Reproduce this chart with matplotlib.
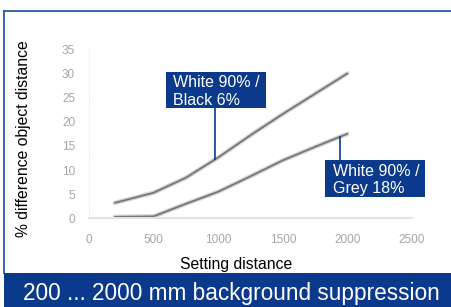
import numpy as np
import matplotlib
matplotlib.use("Agg")
import matplotlib.pyplot as plt
from matplotlib.patches import Rectangle

plt.rcParams["font.family"] = ["Liberation Sans", "DejaVu Sans"]

# setting distance (mm) and % difference of object distance
distance = [200, 500, 750, 1000, 1250, 1500, 1750, 2000]
white_black = [3.2, 5.3, 8.4, 12.6, 17.2, 21.6, 25.8, 30.0]
white_grey = [0.3, 0.4, 3.0, 5.5, 8.7, 12.0, 14.8, 17.5]

x_ticks = [0, 500, 1000, 1500, 2000, 2500]
y_ticks = [0, 5, 10, 15, 20, 25, 30, 35]

label_black = ["White 90% /", "Black 6%"]
label_grey = ["White 90% /", "Grey 18%"]
banner = "200 ... 2000 mm background suppression"

BLUE = "#0b3a8c"
W, H = 452, 307

fig = plt.figure(figsize=(W / 100, H / 100), dpi=100)
ax = fig.add_axes([89 / W, 1 - 218.3 / H, 323 / W, 169 / H])
ax.patch.set_alpha(0)


def fig_xy(px, py):
    # pixel position (top-left origin) -> figure fraction
    return px / W, 1 - py / H


def box(x0, y0, x1, y1, color):
    fig.add_artist(Rectangle((x0 / 100, (H - y1) / 100), (x1 - x0) / 100,
                             (y1 - y0) / 100, transform=fig.dpi_scale_trans,
                             facecolor=color, edgecolor="none", zorder=3))


# blue frame lines and banner
fig.add_artist(plt.Line2D([4.5 / W, 1], [1 - 10.5 / H] * 2, color="#2b5aa8", lw=1.3))
fig.add_artist(plt.Line2D([4.5 / W] * 2, [1 - 10.5 / H, 1 - 273 / H], color="#2b5aa8", lw=1.3))
box(4, 273, W, H, BLUE)
fig.text(*fig_xy(231, 300), banner, color="white", fontsize=16.3,
         ha="center", va="baseline", zorder=4)

# curves (soft halo + core to mimic the blurred scan)
for series in (white_black, white_grey):
    ax.plot(distance, series, color="#d4d4d4", lw=3.2, solid_capstyle="round",
            solid_joinstyle="round")
    ax.plot(distance, series, color="#767676", lw=1.3, solid_capstyle="round",
            solid_joinstyle="round")

ax.set_xlim(0, 2500)
ax.set_ylim(0, 35)
ax.set_xticks(x_ticks)
ax.set_yticks(y_ticks)
ax.tick_params(axis="both", length=0, labelsize=8.5, labelcolor="#a5a5a5")
ax.tick_params(axis="x", pad=11)
ax.tick_params(axis="y", pad=10)
for side in ("top", "right"):
    ax.spines[side].set_visible(False)
ax.spines["bottom"].set_color("#e2e2e2")
ax.spines["bottom"].set_linewidth(1.5)
ax.spines["left"].set_color("#f0f0f0")
ax.spines["left"].set_linestyle(":")

fig.text(*fig_xy(236, 269), "Setting distance", fontsize=11.3,
         ha="center", va="baseline")
fig.text(*fig_xy(24, 139), "% difference object distance", fontsize=11.3,
         rotation=90, ha="center", va="center")

# callout boxes with leader lines
x1 = 975
ax.annotate("", xy=(x1, np.interp(x1, distance, white_black)),
            xytext=fig_xy(215, 108), textcoords="figure fraction",
            arrowprops=dict(arrowstyle="-", color=BLUE, lw=1.2,
                            shrinkA=0, shrinkB=0))
box(166, 71.7, 265.7, 108.3, BLUE)
fig.text(*fig_xy(173, 87), label_black[0], color="white", fontsize=11.5,
         va="baseline", zorder=4)
fig.text(*fig_xy(173, 105.5), label_black[1], color="white", fontsize=11.5,
         va="baseline", zorder=4)

x2 = 1943
ax.annotate("", xy=(x2, np.interp(x2, distance, white_grey)),
            xytext=fig_xy(340, 160), textcoords="figure fraction",
            arrowprops=dict(arrowstyle="-", color=BLUE, lw=1.2,
                            shrinkA=0, shrinkB=0))
box(325, 160, 425, 196.7, BLUE)
fig.text(*fig_xy(333, 175.5), label_grey[0], color="white", fontsize=11.5,
         va="baseline", zorder=4)
fig.text(*fig_xy(333, 193.5), label_grey[1], color="white", fontsize=11.5,
         va="baseline", zorder=4)

fig.savefig("out.png", dpi=100)
